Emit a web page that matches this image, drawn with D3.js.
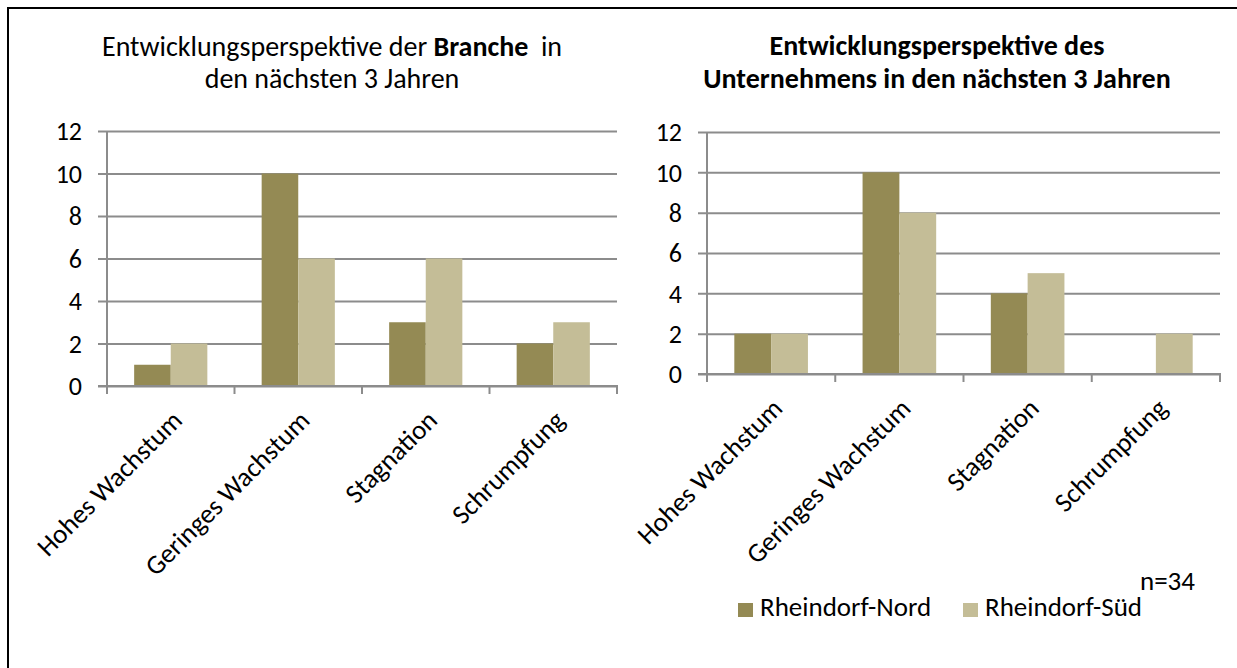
<!DOCTYPE html>
<html>
<head>
<meta charset="utf-8">
<script src="https://cdn.jsdelivr.net/npm/d3@7"></script>
<style>
  body { margin: 0; background: #fff; }
  svg text { font-family: Carlito, Calibri, "Open Sans", sans-serif; fill: #000; }
</style>
</head>
<body>
<svg id="chart" width="1237" height="668"></svg>
<script>
var categories = ["Hohes Wachstum", "Geringes Wachstum", "Stagnation", "Schrumpfung"];
var seriesNames = ["Rheindorf-Nord", "Rheindorf-Süd"];
var brancheNord = [1, 10, 3, 2];
var brancheSued = [2, 6, 6, 3];
var unternNord = [2, 10, 4, 0];
var unternSued = [2, 8, 5, 2];
var yTicks = [0, 2, 4, 6, 8, 10, 12];
var colors = ["#948a54", "#c4bd97"];

var svg = d3.select("#chart");

// frame of the slide
svg.append("rect")
    .attr("x", 8).attr("y", 8)
    .attr("width", 1400).attr("height", 800)
    .attr("fill", "none")
    .attr("stroke", "#000")
    .attr("stroke-width", 2);

function drawChart(opt, nord, sued) {
  var g = svg.append("g").attr("transform", "translate(" + opt.left + "," + opt.top + ")");
  var w = opt.width, h = opt.height;

  var x = d3.scaleBand().domain(categories).range([0, w]);
  var xs = d3.scaleBand().domain(seriesNames)
      .range([x.bandwidth() * 0.213, x.bandwidth() * 0.787]);
  var y = d3.scaleLinear().domain([0, 12]).range([h, 0]);

  // y axis with gridlines
  var yAxis = g.append("g")
      .call(d3.axisLeft(y).tickValues(yTicks).tickSize(-w).tickPadding(0));
  yAxis.select(".domain").remove();
  yAxis.selectAll(".tick line")
      .attr("x1", -9)
      .attr("stroke", "#8c8c8c")
      .attr("stroke-width", 2);
  yAxis.selectAll(".tick text")
      .attr("x", -25)
      .attr("font-size", 26)
      .attr("dy", "0.34em");

  // bars
  var rows = categories.map(function(c, i) { return { cat: c, vals: [nord[i], sued[i]] }; });
  g.append("g")
    .selectAll("g")
    .data(rows)
    .enter().append("g")
      .attr("transform", function(d) { return "translate(" + x(d.cat) + ",0)"; })
    .selectAll("rect")
    .data(function(d) { return d.vals.map(function(v, j) { return { key: seriesNames[j], v: v, j: j }; }); })
    .enter().append("rect")
      .attr("x", function(d) { return xs(d.key); })
      .attr("width", xs.bandwidth())
      .attr("y", function(d) { return y(d.v); })
      .attr("height", function(d) { return h - y(d.v); })
      .attr("fill", function(d) { return colors[d.j]; });

  // axis lines
  g.append("line")
      .attr("x1", 0).attr("x2", 0)
      .attr("y1", 0).attr("y2", h + 8)
      .attr("stroke", "#8c8c8c").attr("stroke-width", 2);
  g.append("line")
      .attr("x1", -9).attr("x2", w + 1)
      .attr("y1", h).attr("y2", h)
      .attr("stroke", "#8c8c8c").attr("stroke-width", 2);
  g.append("g")
    .selectAll("line")
    .data(categories)
    .enter().append("line")
      .attr("x1", function(d) { return x(d) + x.bandwidth(); })
      .attr("x2", function(d) { return x(d) + x.bandwidth(); })
      .attr("y1", h).attr("y2", h + 8)
      .attr("stroke", "#8c8c8c").attr("stroke-width", 2);

  // category labels, rotated
  g.append("g")
    .selectAll("text")
    .data(categories)
    .enter().append("text")
      .attr("text-anchor", "end")
      .attr("font-size", 27)
      .attr("transform", function(d) {
        return "translate(" + (x(d) + x.bandwidth() / 2 + 13) + "," + (h + 36) + ")rotate(-45)";
      })
      .text(function(d) { return d; });

  // title
  var t = svg.append("g").attr("font-size", 28).attr("text-anchor", "middle");
  opt.title.forEach(function(line) {
    var tx = t.append("text")
        .attr("x", opt.titleX).attr("y", line.y)
        .style("white-space", "pre");
    line.parts.forEach(function(p) {
      tx.append("tspan")
          .attr("font-weight", p.bold ? "bold" : null)
          .text(p.t);
    });
  });
}

drawChart({
  left: 107, top: 131, width: 510, height: 255, titleX: 332,
  title: [
    { y: 56, parts: [{ t: "Entwicklungsperspektive der " }, { t: "Branche", bold: true }, { t: "  in" }] },
    { y: 88, parts: [{ t: "den nächsten 3 Jahren" }] }
  ]
}, brancheNord, brancheSued);

drawChart({
  left: 707, top: 132, width: 513, height: 242, titleX: 937,
  title: [
    { y: 55, parts: [{ t: "Entwicklungsperspektive des", bold: true }] },
    { y: 88, parts: [{ t: "Unternehmens in den nächsten 3 Jahren", bold: true }] }
  ]
}, unternNord, unternSued);

// legend
var legend = svg.append("g")
  .selectAll("g")
  .data(seriesNames)
  .enter().append("g")
    .attr("transform", function(d, i) { return "translate(" + [738, 963][i] + ",603)"; });

legend.append("rect")
    .attr("width", 15).attr("height", 14)
    .attr("fill", function(d, i) { return colors[i]; });

legend.append("text")
    .attr("x", 22).attr("y", 13)
    .attr("font-size", 27)
    .text(function(d) { return d; });

svg.append("text")
    .attr("x", 1195).attr("y", 590)
    .attr("text-anchor", "end")
    .attr("font-size", 27)
    .text("n=34");
</script>
</body>
</html>
